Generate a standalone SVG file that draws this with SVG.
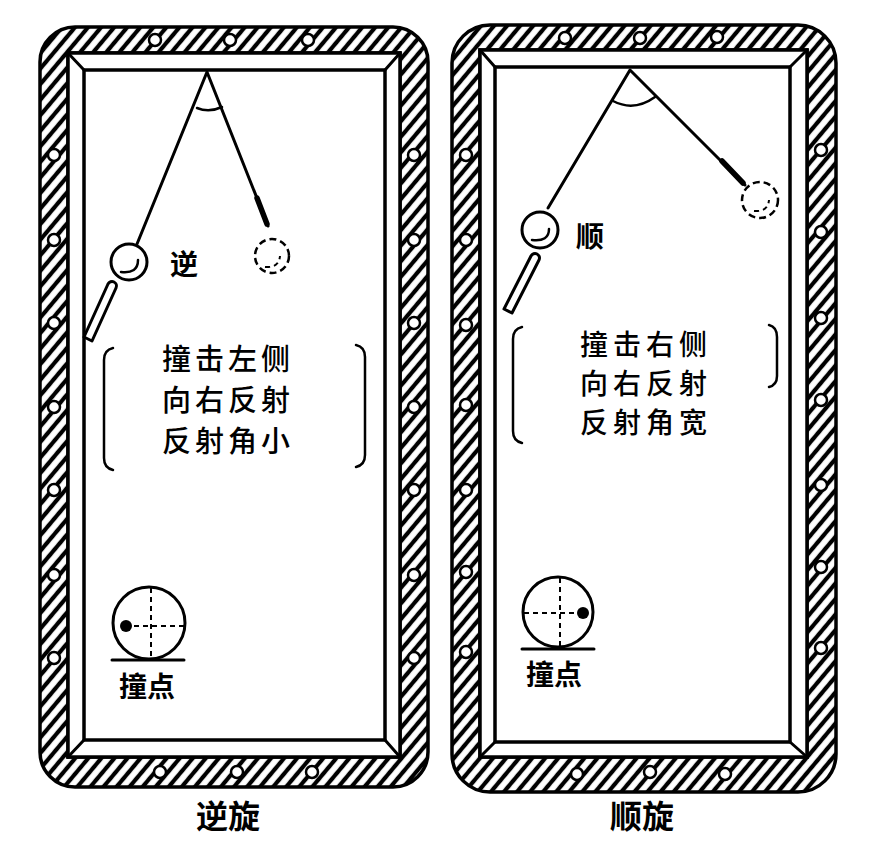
<svg xmlns="http://www.w3.org/2000/svg" width="872" height="844" viewBox="0 0 872 844">
<style>
.ln{fill:none;stroke:#000;stroke-width:3;stroke-linecap:round;stroke-linejoin:round}
.thin{fill:none;stroke:#000;stroke-width:2.5;stroke-linecap:round}
.band{fill:url(#hatch);fill-rule:evenodd;stroke:#000;stroke-width:3.5}
.cush{fill:#fff;stroke:#000;stroke-width:3.5}
.hole{fill:#fff;stroke:#000;stroke-width:2.5}
.ball{fill:#fff;stroke:#000;stroke-width:3}
.ghost{fill:none;stroke:#000;stroke-width:2.5;stroke-dasharray:7 4}
.dash{fill:none;stroke:#000;stroke-width:2;stroke-dasharray:5 4}
.tip{fill:none;stroke:#000;stroke-width:5.5;stroke-linecap:round}
.cue{fill:#fff;stroke:#000;stroke-width:3;stroke-linejoin:round}
.txt{font-family:"Noto Sans CJK SC","Noto Sans CJK JP",sans-serif;fill:#000}
.para{font-size:29px;letter-spacing:4px;font-weight:500}
.parar{font-size:28px;letter-spacing:5px;font-weight:500}
.lbl{font-size:28px;font-weight:bold}
</style>
<defs>
<pattern id="hatch" width="10" height="10" patternUnits="userSpaceOnUse" patternTransform="rotate(40)">
<rect width="10" height="10" fill="#fff"/>
<line x1="5" y1="-1" x2="5" y2="11" stroke="#000" stroke-width="4.2"/>
</pattern>
</defs>
<rect width="872" height="844" fill="#fff"/>

<g id="table-left">
<path class="band" d="M75,27 H393 A35,35 0 0 1 428,62 V752 A35,35 0 0 1 393,787 H75 A35,35 0 0 1 40,752 V62 A35,35 0 0 1 75,27 Z M68,53 H400 V757 H68 Z"/>
<rect class="cush" x="68" y="53" width="332" height="704"/>
<rect class="cush" x="84" y="70" width="301" height="670"/>
<path class="ln" d="M68,53 L84,70 M400,53 L385,70 M68,757 L84,740 M400,757 L385,740"/>
<g>
<circle class="hole" cx="155" cy="40" r="6"/><circle class="hole" cx="230" cy="40" r="6"/><circle class="hole" cx="308" cy="40" r="6"/>
<circle class="hole" cx="160" cy="772" r="6"/><circle class="hole" cx="237" cy="772" r="6"/><circle class="hole" cx="312" cy="772" r="6"/>
<circle class="hole" cx="54" cy="155" r="6"/><circle class="hole" cx="54" cy="240" r="6"/><circle class="hole" cx="54" cy="323" r="6"/><circle class="hole" cx="54" cy="407" r="6"/><circle class="hole" cx="54" cy="490" r="6"/><circle class="hole" cx="54" cy="575" r="6"/><circle class="hole" cx="54" cy="658" r="6"/>
<circle class="hole" cx="414" cy="155" r="6"/><circle class="hole" cx="414" cy="240" r="6"/><circle class="hole" cx="414" cy="323" r="6"/><circle class="hole" cx="414" cy="407" r="6"/><circle class="hole" cx="414" cy="490" r="6"/><circle class="hole" cx="414" cy="575" r="6"/><circle class="hole" cx="414" cy="658" r="6"/>
</g>
</g>

<g id="table-right">
<path class="band" d="M490,25 H798 A38,38 0 0 1 836,63 V754 A38,38 0 0 1 798,792 H490 A38,38 0 0 1 452,754 V63 A38,38 0 0 1 490,25 Z M480,50 H807 V757 H480 Z"/>
<rect class="cush" x="480" y="50" width="327" height="707"/>
<rect class="cush" x="495" y="67" width="295" height="675"/>
<path class="ln" d="M480,50 L495,67 M807,50 L790,67 M480,757 L495,742 M807,757 L790,742"/>
<g>
<circle class="hole" cx="565" cy="38" r="6"/><circle class="hole" cx="640" cy="38" r="6"/><circle class="hole" cx="717" cy="37" r="6"/>
<circle class="hole" cx="577" cy="774" r="6"/><circle class="hole" cx="650" cy="772" r="6"/><circle class="hole" cx="725" cy="774" r="6"/>
<circle class="hole" cx="466" cy="155" r="6"/><circle class="hole" cx="466" cy="240" r="6"/><circle class="hole" cx="466" cy="325" r="6"/><circle class="hole" cx="466" cy="405" r="6"/><circle class="hole" cx="466" cy="490" r="6"/><circle class="hole" cx="466" cy="572" r="6"/><circle class="hole" cx="466" cy="652" r="6"/>
<circle class="hole" cx="821" cy="150" r="6"/><circle class="hole" cx="821" cy="232" r="6"/><circle class="hole" cx="821" cy="318" r="6"/><circle class="hole" cx="821" cy="400" r="6"/><circle class="hole" cx="821" cy="485" r="6"/><circle class="hole" cx="821" cy="567" r="6"/><circle class="hole" cx="821" cy="648" r="6"/>
</g>
</g>

<g id="connectors">
<path class="ln" d="M137,244 L207,72 L268,226"/>
<line class="tip" x1="257" y1="198" x2="267" y2="224"/>
<path class="thin" d="M197,108 Q209,113 222,107"/>
<path class="ln" d="M548,208 L630,70 L745,185"/>
<line class="tip" x1="722" y1="161" x2="743" y2="183"/>
<path class="thin" d="M613,101 Q634,112 655,97"/>
</g>

<g id="ball-left">
<circle class="ball" cx="129" cy="262" r="18"/>
<path class="thin" d="M121,272 Q138,274 138,260"/>
</g>
<g id="ghost-left">
<circle class="ghost" cx="272" cy="256" r="17"/>
<path class="dash" d="M265,267 Q279,268 280,256"/>
</g>
<g id="cue-left">
<path class="cue" d="M108,284 A4,4 0 0 1 116,288 L92,341 L84,337 Z"/>
</g>
<text class="txt lbl" x="170" y="275">逆</text>

<g id="note-left">
<path class="thin" d="M113,348 Q104,350 104,360 V458 Q104,468 113,470"/>
<path class="thin" d="M356,345 Q365,347 365,357 V455 Q365,465 356,467"/>
<text class="txt para" x="162" y="370">撞击左侧</text>
<text class="txt para" x="162" y="411">向右反射</text>
<text class="txt para" x="162" y="452">反射角小</text>
</g>

<g id="hitpoint-left">
<circle class="ball" cx="149" cy="623" r="36"/>
<line class="dash" x1="151" y1="588" x2="151" y2="659"/>
<line class="dash" x1="125" y1="626" x2="185" y2="626"/>
<circle cx="126" cy="626" r="6"/>
<line class="ln" x1="112" y1="660" x2="184" y2="660"/>
<text class="txt lbl" x="119" y="697">撞点</text>
</g>

<g id="ball-right">
<circle class="ball" cx="540" cy="230" r="18"/>
<path class="thin" d="M532,240 Q549,242 549,229"/>
</g>
<g id="ghost-right">
<circle class="ghost" cx="760" cy="200" r="18"/>
<path class="dash" d="M754,211 Q768,212 769,200"/>
</g>
<g id="cue-right">
<path class="cue" d="M531,256 A4,4 0 0 1 539,260 L512,313 L504,309 Z"/>
</g>
<text class="txt lbl" x="576" y="247">顺</text>

<g id="note-right">
<path class="thin" d="M522,327 Q513,329 513,339 V431 Q513,441 522,443"/>
<path class="thin" d="M769,325 Q777,327 777,337 V376 Q777,385 769,387"/>
<text class="txt parar" x="580" y="355">撞击右侧</text>
<text class="txt parar" x="580" y="394">向右反射</text>
<text class="txt parar" x="580" y="433">反射角宽</text>
</g>

<g id="hitpoint-right">
<circle class="ball" cx="558" cy="612" r="35"/>
<line class="dash" x1="560" y1="578" x2="560" y2="647"/>
<line class="dash" x1="524" y1="613" x2="583" y2="613"/>
<circle cx="583" cy="613" r="6"/>
<line class="ln" x1="522" y1="649" x2="594" y2="649"/>
<text class="txt lbl" x="526" y="685">撞点</text>
</g>

<text class="txt lbl" x="196" y="828" style="font-size:32px">逆旋</text>
<text class="txt lbl" x="610" y="828" style="font-size:32px">顺旋</text>
</svg>
